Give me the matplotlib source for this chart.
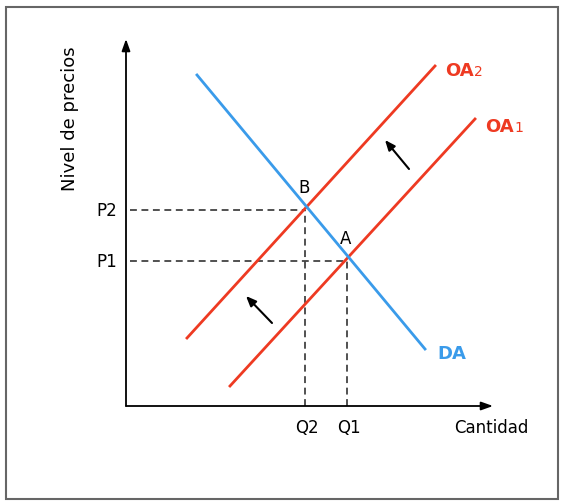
import matplotlib.pyplot as plt
from matplotlib.patches import Rectangle

# curves (cantidad, precio) endpoints
da_q = [7.1, 29.9]
da_p = [33.1, 5.7]
oa2_q = [6.1, 30.9]
oa2_p = [6.8, 34.0]
oa1_q = [10.4, 34.9]
oa1_p = [2.0, 28.7]

# equilibria
eq_names = ['B', 'A']
eq_q = [17.9, 22.1]
eq_p = [19.6, 14.5]
p_labels = ['P2', 'P1']
q_labels = ['Q2', 'Q1']

# shift arrows (start -> end)
shift_from = [(28.3, 23.7), (14.6, 8.3)]
shift_to = [(25.9, 26.6), (12.0, 11.0)]

axis_len = 36.7
red = '#ee3a22'
blue = '#3a9bea'

plt.rcParams['font.family'] = ['DejaVu Sans']
fig = plt.figure(figsize=(5.66, 5.02), dpi=100)
ax = fig.add_axes([0, 0, 1, 1])
ax.set_xlim(-12.6, 44.0)
ax.set_ylim(-9.5, 40.7)
ax.axis('off')

# frame
ax.add_patch(Rectangle((-12.0, -9.3), 55.2, 49.2, fill=False,
                       edgecolor='#666666', lw=1.5))

# axes with arrows
arr = dict(arrowstyle='-|>,head_length=0.7,head_width=0.25', color='black', lw=1.3,
           shrinkA=0, shrinkB=0)
ax.annotate('', xy=(0, axis_len), xytext=(0, 0), arrowprops=arr)
ax.annotate('', xy=(axis_len, 0), xytext=(0, 0), arrowprops=arr)

# dashed guides
for q, p in zip(eq_q, eq_p):
    ax.plot([0.4, q], [p, p], ls=(0, (4.5, 3)), color='#222222', lw=1.1)
    ax.plot([q, q], [0, p], ls=(0, (4.5, 3)), color='#222222', lw=1.1)

ax.plot(oa2_q, oa2_p, color=red, lw=2)
ax.plot(oa1_q, oa1_p, color=red, lw=2)
ax.plot(da_q, da_p, color=blue, lw=2)

for a, b in zip(shift_from, shift_to):
    ax.annotate('', xy=b, xytext=a,
                arrowprops=dict(arrowstyle='-|>,head_length=0.6,head_width=0.25',
                                color='black', lw=1.5, shrinkA=0, shrinkB=0))

fs = 12
for name, q, p in zip(eq_names, eq_q, eq_p):
    ax.text(q - 0.1, p + 2.3, name, ha='center', va='center', fontsize=fs)
for lab, p in zip(p_labels, eq_p):
    ax.text(-0.9, p, lab, ha='right', va='center', fontsize=fs)
for lab, q in zip(q_labels, eq_q):
    ax.text(q + 0.2, -2.1, lab, ha='center', va='center', fontsize=fs)
ax.text(36.5, -2.1, 'Cantidad', ha='center', va='center', fontsize=fs)
ax.text(-5.6, 28.8, 'Nivel de precios', ha='center', va='center',
        rotation=90, fontsize=13)

def curve_label(x, y, main, sub, color):
    t = ax.text(x, y, main, ha='left', va='center', fontsize=13,
                fontweight='bold', color=color)
    if sub:
        ax.annotate(sub, xy=(1, 0.5), xycoords=t, ha='left', va='center',
                    fontsize=10, color=color, xytext=(0.5, -0.5),
                    textcoords='offset points')

curve_label(31.9, 33.6, 'OA', '2', red)
curve_label(35.9, 28.0, 'OA', '1', red)
curve_label(31.1, 5.3, 'DA', '', blue)

fig.savefig('out.png', dpi=100)
